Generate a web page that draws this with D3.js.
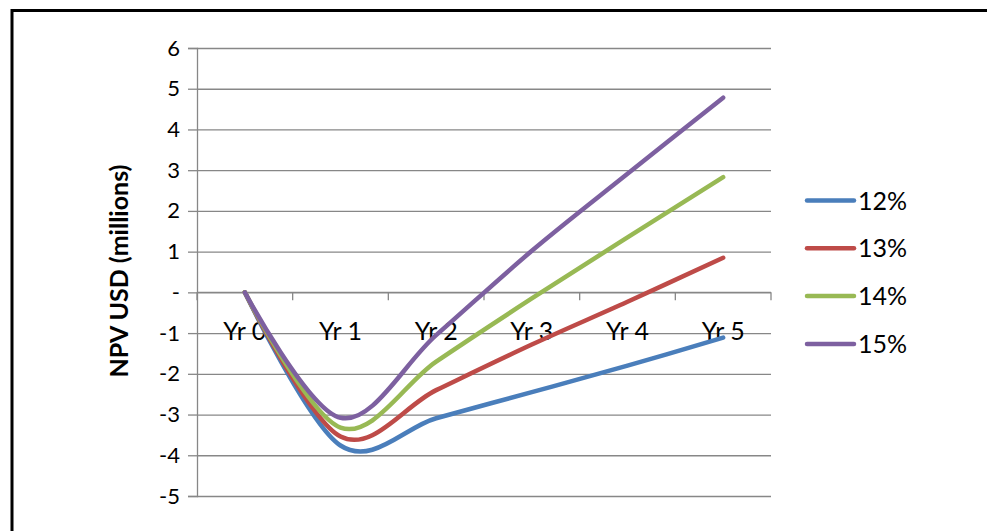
<!DOCTYPE html>
<html>
<head>
<meta charset="utf-8">
<script src="https://cdn.jsdelivr.net/npm/d3@7"></script>
<style>
  body { margin: 0; background: #fff; }
  svg { display: block; }
</style>
</head>
<body>
<div id="app"></div>
<script>
// data
const years = ["Yr 0", "Yr 1", "Yr 2", "Yr 3", "Yr 4", "Yr 5"];
const seriesNames = ["12%", "13%", "14%", "15%"];
const npv12 = [0, -3.76, -3.09, -2.45, -1.80, -1.11];
const npv13 = [0, -3.54, -2.40, -1.28, -0.23, 0.85];
const npv14 = [0, -3.32, -1.70, -0.15, 1.35, 2.83];
const npv15 = [0, -3.08, -1.05, 1.02, 2.91, 4.78];
const yTicks = [-5, -4, -3, -2, -1, 0, 1, 2, 3, 4, 5, 6];

const seriesValues = [npv12, npv13, npv14, npv15];
const colors = ["#4a7ebb", "#be4b48", "#98b954", "#7d60a0"];

// sizing
const width = 987;
const height = 531;
const plot = {left: 197, right: 771, top: 48, bottom: 496};
const grid = "#878787";
const font = "Lato, 'Open Sans', sans-serif";

let svg = d3.select("#app")
  .append("svg")
    .attr("width", width)
    .attr("height", height);

// outer border (runs off the right and bottom edge)
svg.append("rect")
  .attr("x", 12)
  .attr("y", 10.5)
  .attr("width", 1000)
  .attr("height", 600)
  .attr("fill", "none")
  .attr("stroke", "#000")
  .attr("stroke-width", 3);

// scales
const x = d3.scaleBand()
  .domain(years)
  .range([plot.left, plot.right])
  .padding(0);

const y = d3.scaleLinear()
  .domain([-5, 6])
  .range([plot.bottom, plot.top]);

// y axis with gridlines
const yAxis = svg.append("g")
  .attr("transform", "translate(" + plot.left + ",0)")
  .call(d3.axisLeft(y)
    .tickValues(yTicks)
    .tickSize(9)
    .tickPadding(8)
    .tickFormat(d => d === 0 ? "-" : d));

yAxis.select(".domain").attr("stroke", grid).attr("stroke-width", 1.3);
yAxis.selectAll(".tick line").attr("stroke", grid).attr("stroke-width", 1.3);
yAxis.selectAll(".tick text")
  .attr("fill", "#000")
  .style("font-family", font)
  .style("font-size", "22px");

yAxis.selectAll(".tick")
  .append("line")
    .attr("x1", 0)
    .attr("x2", plot.right - plot.left)
    .attr("stroke", grid)
    .attr("stroke-width", 1.3);

// x axis sits on zero, ticks between categories
const xAxis = svg.append("g")
  .attr("transform", "translate(0," + y(0) + ")");

xAxis.append("line")
  .attr("x1", plot.left)
  .attr("x2", plot.right)
  .attr("stroke", grid)
  .attr("stroke-width", 1.3);

xAxis.selectAll("line.tk")
  .data(years.concat(["end"]))
  .enter().append("line")
    .attr("class", "tk")
    .attr("x1", (d, i) => i < years.length ? x(d) : plot.right)
    .attr("x2", (d, i) => i < years.length ? x(d) : plot.right)
    .attr("y1", 0)
    .attr("y2", 8)
    .attr("stroke", grid)
    .attr("stroke-width", 1.3);

xAxis.selectAll("text")
  .data(years)
  .enter().append("text")
    .attr("x", d => x(d) + x.bandwidth() / 2)
    .attr("y", 47.5)
    .attr("text-anchor", "middle")
    .style("font-family", font)
    .style("font-size", "25px")
    .text(d => d);

// axis title
svg.append("text")
  .attr("transform", "translate(128,271) rotate(-90)")
  .attr("text-anchor", "middle")
  .style("font-family", font)
  .style("font-weight", "bold")
  .style("font-size", "25px")
  .text("NPV USD (millions)");

// lines
const line = d3.line()
  .x((d, i) => x(years[i]) + x.bandwidth() / 2)
  .y(d => y(d))
  .curve(d3.curveCardinal.tension(0));

svg.append("g")
  .selectAll("path")
  .data(seriesValues)
  .enter().append("path")
    .attr("d", d => line(d))
    .attr("fill", "none")
    .attr("stroke", (d, i) => colors[i])
    .attr("stroke-width", 4.5)
    .attr("stroke-linecap", "round")
    .attr("stroke-linejoin", "round");

// legend
const legend = svg.append("g")
  .selectAll("g")
  .data(seriesNames)
  .enter().append("g")
    .attr("transform", (d, i) => "translate(806," + (200.5 + i * 47.8) + ")");

legend.append("line")
  .attr("x1", 1)
  .attr("x2", 48)
  .attr("stroke", (d, i) => colors[i])
  .attr("stroke-width", 4.5)
  .attr("stroke-linecap", "round");

legend.append("text")
  .attr("x", 52)
  .attr("y", 9)
  .style("font-family", font)
  .style("font-size", "25px")
  .text(d => d);
</script>
</body>
</html>
